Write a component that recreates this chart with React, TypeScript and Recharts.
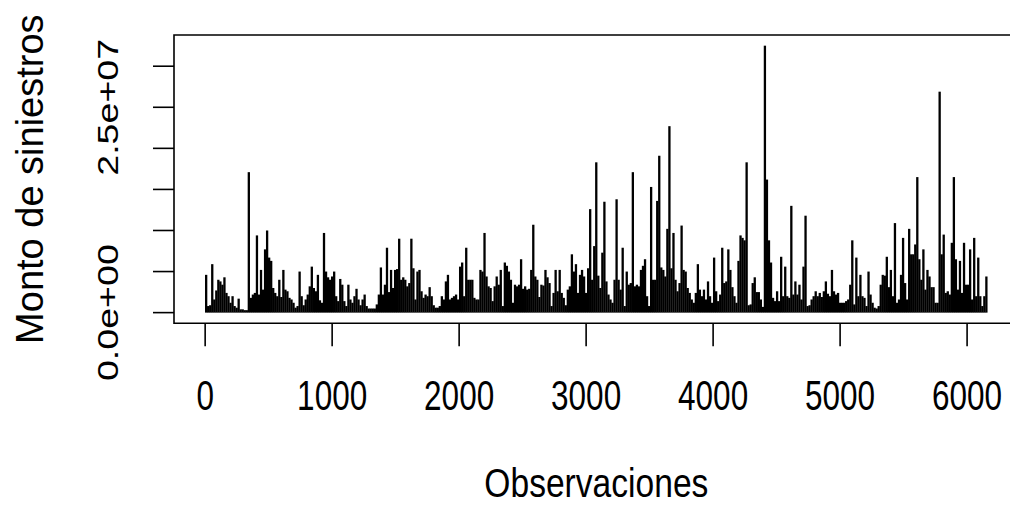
import React from 'react';
import { BarChart, Bar, XAxis, YAxis, ReferenceArea, Label } from 'recharts';

// Monto de siniestros (millones), máximo de cada grupo de 16 observaciones consecutivas
const montoBloque1 = [
  4.6, 0.8, 0.9, 5.9, 1.6, 2.7, 4.0, 3.8, 3.4, 4.3,
  2.4, 2.0, 1.2, 2.0, 0.8, 0.6, 1.7, 0.4, 0.4, 0.3,
  0.3, 17.1, 1.8, 2.2, 2.4, 9.4, 2.2, 5.2, 2.8, 7.7,
  10.0, 6.7, 6.3, 3.0, 2.4, 2.0, 4.0, 1.9, 5.2, 2.8,
  2.6, 1.8, 1.6, 1.2, 0.6, 0.8, 5.0, 2.0, 0.9, 1.6,
  2.2, 3.2, 5.6, 3.0, 2.6, 4.6, 1.5, 1.2, 9.7, 5.0,
  4.3, 4.0,
];
const montoBloque2 = [
  4.4, 5.0, 2.0, 1.4, 4.1, 3.4, 1.4, 0.8, 3.4, 1.6,
  1.2, 2.0, 2.9, 1.6, 0.9, 1.6, 2.2, 0.8, 0.5, 0.5,
  0.5, 0.5, 1.0, 2.2, 5.5, 2.2, 3.4, 7.9, 2.5, 5.2,
  3.0, 5.2, 5.3, 9.0, 4.0, 4.3, 4.0, 3.2, 3.6, 9.0,
  5.4, 1.6, 5.0, 5.2, 2.6, 1.8, 2.2, 2.0, 3.1, 2.0,
  0.9, 0.6, 0.6, 0.8, 2.0, 1.6, 3.8, 4.6, 1.6, 1.8,
  2.0, 2.2, 1.6, 5.6, 6.1,
];
const montoBloque3 = [
  2.0, 7.9, 4.0, 4.0, 4.0, 1.8, 1.6, 1.6, 5.2, 5.0,
  9.7, 4.4, 3.2, 3.0, 1.4, 3.2, 4.4, 3.4, 5.2, 0.8,
  6.1, 5.7, 5.0, 4.0, 1.2, 3.4, 3.2, 3.4, 6.5, 2.9,
  3.2, 2.8, 2.9, 5.2, 10.7, 4.4, 4.0, 1.9, 3.4, 3.3,
  5.2, 4.3, 3.6, 0.8, 2.4, 5.2, 2.6, 5.2, 2.4, 1.8,
  0.9, 2.8, 3.2, 7.1, 5.0, 5.9, 2.4, 4.6, 5.2, 4.4,
  2.4, 5.4, 12.6, 4.0,
];
const montoBloque4 = [
  8.1, 18.3, 4.5, 3.0, 7.3, 13.5, 3.8, 2.2, 1.6, 1.2,
  4.0, 13.8, 4.0, 2.8, 7.9, 0.8, 5.0, 3.4, 3.6, 17.1,
  3.2, 3.4, 3.2, 5.2, 5.7, 6.5, 2.0, 0.8, 15.3, 4.0,
  4.0, 13.6, 19.1, 5.5, 5.2, 4.4, 10.2, 22.7, 5.4, 9.7,
  4.0, 2.6, 3.6, 10.6, 5.2, 5.0, 3.0, 2.4, 1.6, 1.2,
  2.4, 5.9, 2.8, 2.0, 2.8, 1.6, 3.8, 2.0, 1.2, 6.7,
  2.6, 1.4, 2.2, 7.9, 3.6,
];
const montoBloque5 = [
  3.8, 7.7, 5.2, 3.1, 2.0, 1.2, 6.3, 9.4, 9.1, 8.8,
  18.3, 0.9, 1.0, 3.6, 4.3, 2.5, 2.5, 1.6, 0.7, 32.5,
  16.2, 8.8, 6.1, 1.8, 1.4, 2.6, 1.4, 6.8, 2.0, 5.6,
  2.0, 1.8, 13.0, 2.2, 3.8, 2.2, 3.4, 1.6, 5.6, 11.8,
  0.8, 0.9, 1.6, 2.0, 2.6, 2.0, 2.4, 1.9, 2.6, 3.8,
  2.3, 2.0, 5.2, 2.6, 2.2, 2.4, 1.2, 1.2, 1.2, 1.4,
  1.6, 3.4, 8.8, 1.0,
];
const montoBloque6 = [
  6.7, 2.0, 4.6, 2.0, 1.8, 0.8, 5.0, 2.2, 1.2, 0.6,
  0.5, 0.8, 3.4, 4.6, 4.5, 6.8, 3.1, 5.2, 2.0, 10.9,
  1.2, 1.6, 4.6, 9.1, 3.6, 1.6, 10.2, 7.1, 7.1, 8.3,
  16.5, 6.5, 4.0, 7.7, 2.8, 5.2, 4.4, 3.1, 3.1, 1.2,
  1.2, 26.9, 7.1, 9.5, 2.4, 2.6, 2.2, 8.5, 16.5, 6.5,
  2.8, 6.3, 2.4, 8.5, 3.4, 3.4, 7.7, 1.6, 9.1, 2.0,
  6.7, 2.0, 0.8, 2.0, 4.4,
];

const obsPerGroup = 16;
const xTicks = [0, 1000, 2000, 3000, 4000, 5000, 6000];
const xTickLabels = ['0', '1000', '2000', '3000', '4000', '5000', '6000'];
const yTicks = [0, 5e6, 1e7, 1.5e7, 2e7, 2.5e7, 3e7];
const yTickLabels = ['0.0e+00', '', '', '', '', '2.5e+07', ''];
const xTitle = 'Observaciones';
const yTitle = 'Monto de siniestros';

const allMillions = [
  ...montoBloque1, ...montoBloque2, ...montoBloque3,
  ...montoBloque4, ...montoBloque5, ...montoBloque6,
];
const data = allMillions.map((v, i) => ({ obs: i * obsPerGroup + obsPerGroup / 2, monto: v * 1e6 }));

const nObs = allMillions.length * obsPerGroup;
const xExt = 0.04 * (nObs - 1);
const xDomain: [number, number] = [1 - xExt, nObs + xExt];
const yMax = Math.max(...data.map((d) => d.monto));
const yDomain: [number, number] = [-0.04 * yMax, 1.04 * yMax];

const FONT = '"Liberation Sans", Arial, sans-serif';
const LINE_W = 2.3;

const XTick = (props: any) => {
  const { x, y, payload } = props;
  const idx = xTicks.indexOf(payload.value);
  return (
    <text transform={`translate(${x},${y}) scale(0.75,1)`} textAnchor="middle" fontSize={42} fontFamily={FONT} fill="#000">
      {idx >= 0 ? xTickLabels[idx] : ''}
    </text>
  );
};

const YTick = (props: any) => {
  const { x, y, payload } = props;
  const idx = yTicks.indexOf(payload.value);
  const label = idx >= 0 ? yTickLabels[idx] : '';
  if (!label) return <g />;
  return (
    <text transform={`translate(${x},${y}) rotate(-90) scale(1,0.78)`} textAnchor="middle" fontSize={37.6} fontFamily={FONT} fill="#000">
      {label}
    </text>
  );
};

const HLine = (p: any) => {
  const { x, y, width, height } = p;
  if (x == null || y == null || !height) return <g />;
  const cx = x + (width || 0) / 2;
  const top = Math.min(y, y + height);
  return <rect x={cx - LINE_W / 2} y={top} width={LINE_W} height={Math.abs(height)} fill="#000" />;
};

export default function App() {
  return (
    <div style={{ position: 'fixed', left: 0, top: 0, width: 1010, height: 506, overflow: 'hidden', background: '#fff' }}>
      <BarChart
        width={1040}
        height={506}
        data={data}
        margin={{ top: 35, right: 21.3, left: 0, bottom: 122.7 }}
      >
        <XAxis
          type="number"
          dataKey="obs"
          domain={xDomain}
          ticks={xTicks}
          interval={0}
          height={60}
          axisLine={false}
          tickLine={{ stroke: '#000', strokeWidth: 1.6 }}
          tickSize={23}
          tickMargin={63.7}
          tick={<XTick />}
        >
          <Label
            content={(p: any) => {
              const vb = p.viewBox || {};
              const cx = vb.x + vb.width / 2;
              return (
                <text transform={`translate(${cx},497) scale(0.84,1)`} textAnchor="middle" fontSize={40} fontFamily={FONT} fill="#000">
                  {xTitle}
                </text>
              );
            }}
          />
        </XAxis>
        <YAxis
          type="number"
          domain={yDomain}
          ticks={yTicks}
          interval={0}
          width={174}
          axisLine={false}
          tickLine={{ stroke: '#000', strokeWidth: 1.6 }}
          tickSize={21}
          tickMargin={35}
          tick={<YTick />}
        >
          <Label
            content={(p: any) => {
              const vb = p.viewBox || {};
              const cy = vb.y + vb.height / 2;
              return (
                <text transform={`translate(43,${cy}) rotate(-90)`} textAnchor="middle" fontSize={38} fontFamily={FONT} fill="#000">
                  {yTitle}
                </text>
              );
            }}
          />
        </YAxis>
        <ReferenceArea
          x1={xDomain[0]}
          x2={xDomain[1]}
          y1={yDomain[0]}
          y2={yDomain[1]}
          fill="none"
          fillOpacity={0}
          stroke="#000"
          strokeWidth={1.6}
          ifOverflow="visible"
        />
        <Bar dataKey="monto" fill="#000" barSize={2} shape={HLine} isAnimationActive={false} />
      </BarChart>
    </div>
  );
}
